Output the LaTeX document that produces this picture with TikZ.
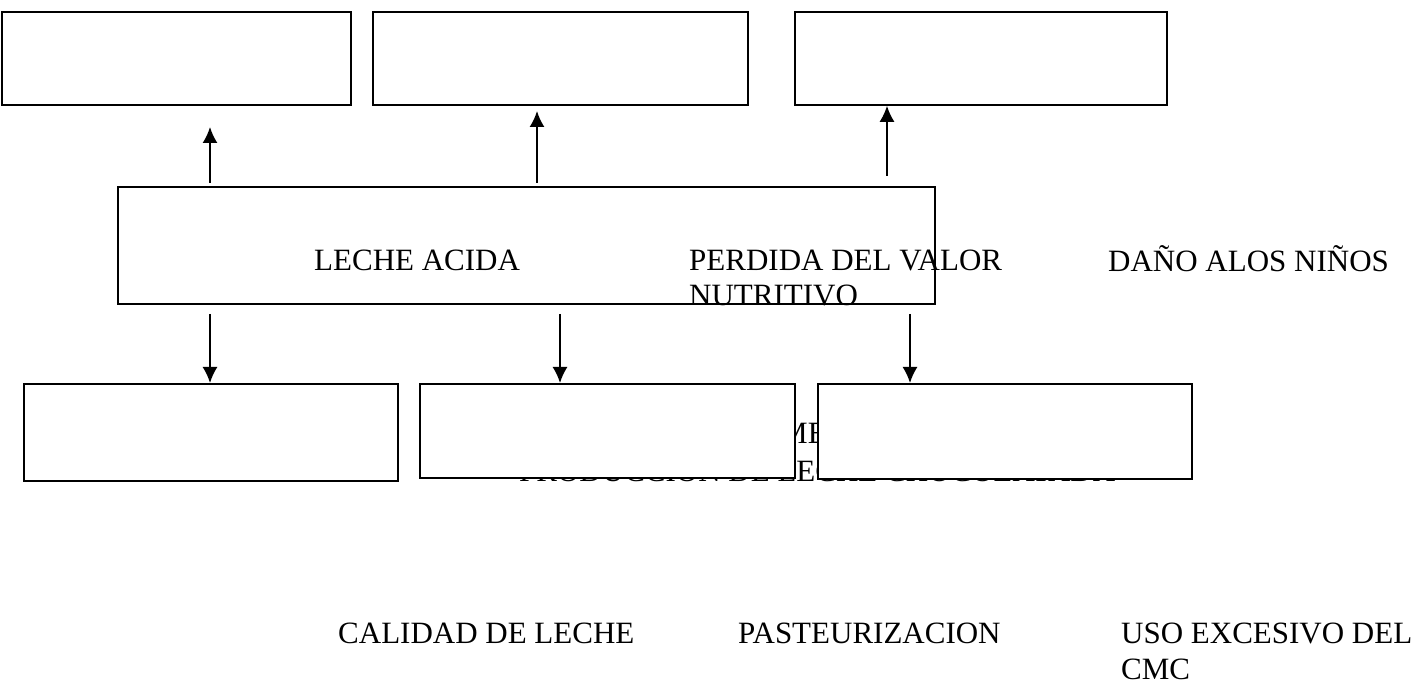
\documentclass[tikz,border=0pt]{standalone}
\usepackage{fontspec}
\setmainfont{Liberation Serif}
\usetikzlibrary{arrows.meta}
\tikzset{
  box/.style={draw=black, line width=1.8pt, fill=white, inner sep=0pt, anchor=north west},
  hollowbox/.style={draw=black, line width=1.8pt, inner sep=0pt, anchor=north west},
  lbl/.style={inner sep=0pt, anchor=base west, font=\fontsize{31}{36}\selectfont},
  arr/.style={line width=1.8pt, -{Latex[length=16pt,width=15pt]}}
}
\begin{document}
\begin{tikzpicture}[x=1pt,y=-1pt]
\useasboundingbox (0,0) rectangle (1428,684);
% top boxes
\node[box, minimum width=349pt, minimum height=93pt] (t1) at (1,11) {};
\node[box, minimum width=375pt, minimum height=93pt] (t2) at (372,11) {};
\node[box, minimum width=372pt, minimum height=93pt] (t3) at (794,11) {};
% central box
\node[hollowbox, minimum width=817pt, minimum height=117pt] (c) at (117,186) {};
% texts
\node[lbl] (leche) at (314,271) {LECHE ACIDA};
\node[lbl] (perd1) at (689,271) {PERDIDA DEL VALOR};
\node[lbl] (perd2) at (689,306) {NUTRITIVO};
\node[lbl] (dano) at (1108,272) {DAÑO ALOS NIÑOS};
\node[lbl] (cal) at (338,643) {CALIDAD DE LECHE};
\node[lbl] (past) at (738,643) {PASTEURIZACION};
\node[lbl] (uso1) at (1121,643) {USO EXCESIVO DEL};
\node[lbl] (uso2) at (1121,679) {CMC};
% problem text partly hidden by the bottom boxes
\node[lbl] (prob1) at (780,444) {ME};
\node[lbl] (prob2) at (519,482) {PRODUCCION DE LECHE CHOCOLATADA};
% bottom boxes
\node[box, minimum width=374pt, minimum height=97pt] (b1) at (23,383) {};
\node[box, minimum width=375pt, minimum height=94pt] (b2) at (419,383) {};
\node[box, minimum width=374pt, minimum height=95pt] (b3) at (817,383) {};
% arrow coordinates
\coordinate (u1s) at (210,183);
\coordinate (u1e) at (210,127);
\coordinate (u2s) at (537,183);
\coordinate (u2e) at (537,111);
\coordinate (u3s) at (887,176);
\coordinate (d1s) at (210,314);
\coordinate (d2s) at (560,314);
\coordinate (d3s) at (910,314);
% arrows
\draw[arr] (u1s) -- (u1e);
\draw[arr] (u2s) -- (u2e);
\draw[arr] (u3s) -- (u3s |- t3.south);
\draw[arr] (d1s) -- (d1s |- b1.north);
\draw[arr] (d2s) -- (d2s |- b2.north);
\draw[arr] (d3s) -- (d3s |- b3.north);
\end{tikzpicture}
\end{document}
